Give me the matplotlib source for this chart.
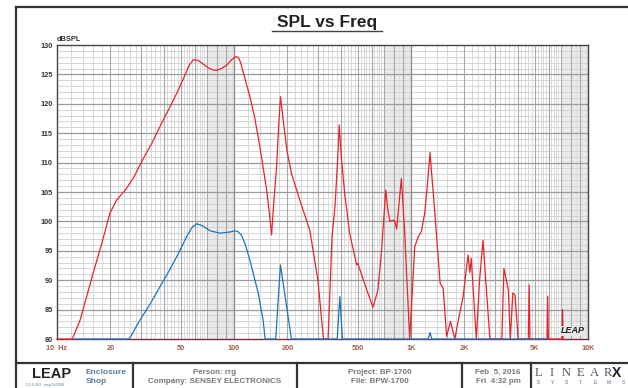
import numpy as np
import matplotlib.pyplot as plt
from matplotlib.lines import Line2D

plt.rcParams['font.family'] = ['Liberation Sans', 'DejaVu Sans']

# SPL curve (red), Hz / dB
red_f = [10, 12.2, 13.5, 16.0, 18.0, 19.9, 21.7, 24.7, 27.5, 30.1, 34.5, 39, 43, 47.5, 52, 55.5,
         58.8, 62.5, 66, 70, 75, 80, 85, 91, 97, 102, 106, 109, 112, 117, 123, 131, 140,
         153, 159, 163, 168, 174, 179, 183, 190, 199, 211, 236, 268, 298, 320, 340, 358,
         372, 385, 393, 405, 422, 450, 493, 500, 563, 610, 650, 680, 720, 740, 760, 790,
         811, 830, 882, 920, 983, 1050, 1100, 1145, 1195, 1240, 1280, 1360, 1460, 1520,
         1590, 1670, 1770, 1850, 1970, 2100, 2150, 2190, 2340, 2440, 2550, 2790, 3260,
         3350, 3550, 3640, 3760, 3870, 4030, 4600, 4650, 4700, 5870, 5920, 5970, 7120,
         7180, 7240]
red_db = [80, 80, 83.2, 91.2, 96.5, 101.4, 103.6, 105.6, 107.8, 110.2, 113.4, 116.7, 119.2,
          121.8, 124.4, 126.4, 127.5, 127.4, 126.9, 126.3, 125.8, 125.7, 126.0, 126.6, 127.5,
          128.0, 127.9, 127.0, 125.7, 123.6, 121.2, 117.6, 112.7, 105.3, 101.0, 97.7, 103.5,
          109.3, 116.5, 121.2, 117.0, 112.1, 108.2, 103.5, 98.5, 90, 80, 80, 97.4, 102.5,
          110.5, 116.4, 110.5, 104.8, 98.0, 92.6, 92.9, 88.3, 85.4, 88.3, 94.6, 105.3, 102.0,
          100, 100.2, 100, 98.7, 107.3, 98.5, 80, 95.7, 97.4, 98.3, 101.4, 106.5, 111.7,
          101.9, 89.5, 88.6, 80.4, 83, 80, 83.2, 87.2, 94.3, 91.3, 93.7, 80, 90, 96.8, 80,
          80, 92, 88.3, 80, 87.8, 87.5, 80, 80, 89.2, 80, 80, 87.3, 80, 80, 85, 80]

# second response curve (blue)
blue_f = [12.6, 25.6, 29.4, 33.5, 38.2, 43, 47.5, 54, 58, 61.6, 66, 73.3, 83.5, 95, 101, 105,
          110, 116, 123, 137, 146, 150, 172, 183, 211, 383, 396, 410, 1250, 1280, 1310, 5900]
blue_db = [80, 80, 83.2, 85.9, 88.9, 91.6, 94.0, 97.4, 99.0, 99.6, 99.3, 98.4, 98.0, 98.2,
           98.4, 98.3, 97.7, 96.0, 93.4, 87.8, 83.2, 80, 80, 92.6, 80, 80, 87.2, 80, 80,
           81.1, 80, 80]

xtick_vals = [10, 20, 50, 100, 200, 500, 1000, 2000, 5000, 10000]
xtick_text = ['10  Hz', '20', '50', '100', '200', '500', '1K', '2K', '5K', '10K']
ytick_vals = list(range(80, 131, 5))

W, H = 628, 388
fig = plt.figure(figsize=(W / 100, H / 100), dpi=100)


def fx(x):
    return x / W


def fy(y):
    return 1 - y / H


ax = fig.add_axes([fx(57), fy(339), fx(588) - fx(57), fy(45) - fy(339)])
ax.set_xscale('log')
ax.set_xlim(10, 10000)
ax.set_ylim(80, 130)

# LEAP-style log grid: 2-unit steps, 1-unit steps near the top of each decade
for dec in [10, 100, 1000]:
    for m in np.arange(1.2, 7.0, 0.2):
        if abs(m - round(m)) > 1e-6:
            ax.axvline(dec * m, color='#d2d2d2', lw=0.6, zorder=1)
    for m in np.arange(7.1, 10.0, 0.1):
        if abs(m - round(m)) > 1e-6:
            ax.axvline(dec * m, color='#dedede', lw=0.45, zorder=1)
    for m in range(2, 10):
        ax.axvline(dec * m, color='#a8a8a8', lw=0.8, zorder=1.2)
for d in [100, 1000]:
    ax.axvline(d, color='#8a8a8a', lw=0.9, zorder=1.3)
for v in range(81, 130):
    if v % 5:
        ax.axhline(v, color='#d4d4d4', lw=0.7, zorder=1.1)
    else:
        ax.axhline(v, color='#9a9a9a', lw=0.9, zorder=1.2)

ax.plot(red_f, red_db, color='#e8232c', lw=0.9, zorder=3, clip_on=False)
ax.plot(blue_f, blue_db, color='#1b75bc', lw=0.9, zorder=4, clip_on=False)

ax.set_xticks(xtick_vals)
ax.set_xticklabels(xtick_text, fontsize=5.3, fontweight='bold', color='#a0604f')
ax.xaxis.set_minor_locator(plt.NullLocator())
ax.set_yticks(ytick_vals)
ax.set_yticklabels([str(v) for v in ytick_vals], fontsize=5.3, fontweight='bold', color='#333333')
ax.tick_params(length=0, pad=3)
ax.tick_params(axis='x', pad=4)
for s in ax.spines.values():
    s.set_color('#444444')
    s.set_linewidth(1.0)
ax.spines['bottom'].set_color('#7a2a3a')

ax.text(0.0, 1.008, 'dBSPL', transform=ax.transAxes, fontsize=5.3, fontweight='bold',
        color='#333333', ha='left', va='bottom')
ax.text(0.994, 0.012, 'LEAP', transform=ax.transAxes, fontsize=6.5, fontweight='bold',
        style='italic', color='#222222', ha='right', va='bottom', zorder=5,
        bbox=dict(facecolor='#e6e6e6', edgecolor='none', pad=0.6))

# title with underline
fig.text(fx(327), fy(22), 'SPL vs Freq', fontsize=12.5, fontweight='bold', color='#222222',
         ha='center', va='center')
fig.add_artist(Line2D([fx(272), fx(382)], [fy(31), fy(31)], color='#444444', lw=1.0))

# outer frame and footer boxes
frame = dict(color='#333333', lw=1.6)
fig.add_artist(Line2D([fx(16), fx(628)], [fy(7), fy(7)], **frame))
fig.add_artist(Line2D([fx(16), fx(16)], [fy(7), fy(388)], **frame))
fig.add_artist(Line2D([fx(16), fx(628)], [fy(363), fy(363)], **frame))
for xd in [133, 297, 462, 531]:
    fig.add_artist(Line2D([fx(xd), fx(xd)], [fy(363), fy(388)], **frame))

fig.text(fx(52), fy(374), 'LEAP', fontsize=10.5, fontweight='bold', color='#222222',
         ha='center', va='center')
fig.text(fx(26), fy(385), '5.2.0.363   may/16/2006', fontsize=2.5, color='#5b7a99',
         ha='left', va='center')
fig.text(fx(86), fy(372.5), 'Enclosure', fontsize=6, fontweight='bold', color='#5b7a99',
         ha='left', va='center')
fig.text(fx(86), fy(381.5), 'Shop', fontsize=6, fontweight='bold', color='#5b7a99',
         ha='left', va='center')

foot = dict(fontsize=5.8, fontweight='bold', color='#777777', ha='center', va='center')
fig.text(fx(215), fy(372.5), 'Person: rrg', **foot)
fig.text(fx(215), fy(381.5), 'Company: SENSEY ELECTRONICS', **foot)
fig.text(fx(380), fy(372.5), 'Project: BP-1700', **foot)
fig.text(fx(380), fy(381.5), 'File: BPW-1700', **foot)
fig.text(fx(498), fy(372.5), 'Feb  5, 2016', **foot)
fig.text(fx(498), fy(381.5), 'Fri  4:32 pm', **foot)

for i, ch in enumerate('LINEAR'):
    fig.text(fx(538 + i * 14), fy(373), ch, fontsize=9, family='Liberation Serif',
             color='#555555', ha='center', va='center')
fig.text(fx(616), fy(373), 'X', fontsize=10, fontweight='bold', family='Liberation Sans',
         color='#222222', ha='center', va='center')
for i, ch in enumerate('SYSTEMS'):
    fig.text(fx(538 + i * 14.2), fy(383), ch, fontsize=3.5, color='#4a6fa0',
             ha='center', va='center')

fig.savefig('out.png', dpi=100)
